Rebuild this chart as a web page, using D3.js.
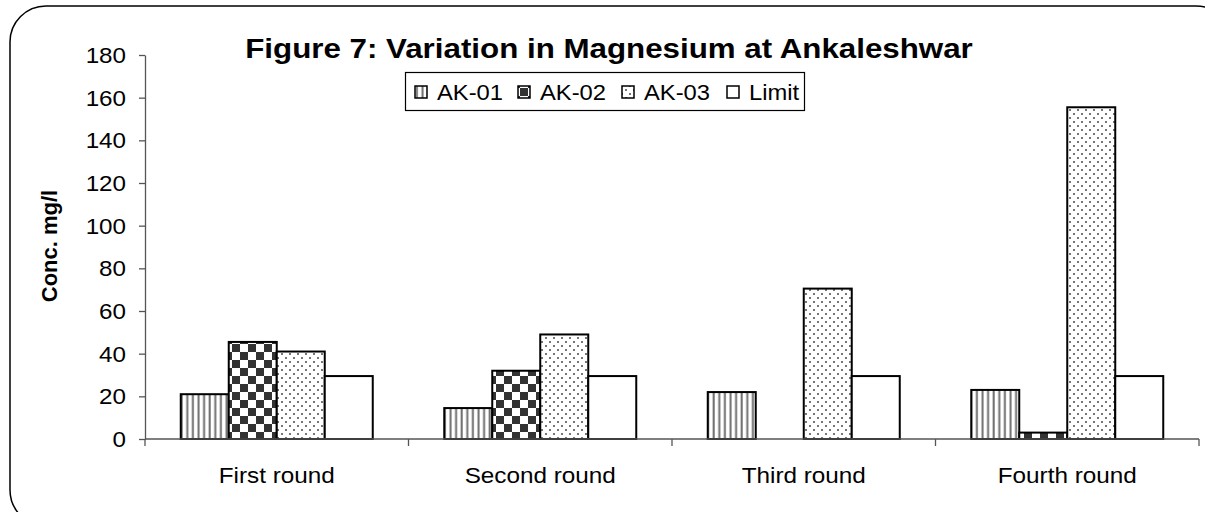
<!DOCTYPE html>
<html>
<head>
<meta charset="utf-8">
<script src="https://cdn.jsdelivr.net/npm/d3@7"></script>
<style>
  html, body { margin: 0; padding: 0; background: #fff; }
  svg { display: block; font-family: "Liberation Sans", Arial, sans-serif; }
</style>
</head>
<body>
<svg id="chart" width="1205" height="512"></svg>
<script>
// Magnesium concentration (mg/l) per sampling round and station
const rounds = ["First round", "Second round", "Third round", "Fourth round"];
const series = ["AK-01", "AK-02", "AK-03", "Limit"];
const ak01 = [21, 14.5, 22, 23];
const ak02 = [45.5, 32, 0, 3];
const ak03 = [41, 49, 70.5, 155.5];
const limit = [29.5, 29.5, 29.5, 29.5];
const yTicks = [0, 20, 40, 60, 80, 100, 120, 140, 160, 180];

const values = { "AK-01": ak01, "AK-02": ak02, "AK-03": ak03, "Limit": limit };

const svg = d3.select("#chart");
const plot = { left: 145, right: 1199, top: 55, bottom: 439 };
const STRETCH = 1.08; // slightly wide lettering

// Text helper: places a horizontally widened label at (x, y)
function label(parent, x, y, str, opts = {}) {
  const g = parent.append("g")
    .attr("transform", `translate(${x},${y}) scale(${opts.sx || STRETCH},1)`);
  return g.append("text")
    .attr("text-anchor", opts.anchor || "start")
    .attr("font-size", opts.size || 22)
    .attr("font-weight", opts.weight || "normal")
    .attr("fill", "#000")
    .text(str);
}

// Patterns used for the bar fills
const defs = svg.append("defs");
const pStripe = defs.append("pattern").attr("id", "pat-stripe")
  .attr("patternUnits", "userSpaceOnUse").attr("width", 5.6).attr("height", 10);
pStripe.append("rect").attr("width", 5.6).attr("height", 10).attr("fill", "#fff");
pStripe.append("rect").attr("x", 1.5).attr("width", 2).attr("height", 10).attr("fill", "#6f6f6f");

const pCheck = defs.append("pattern").attr("id", "pat-check")
  .attr("patternUnits", "userSpaceOnUse").attr("width", 16).attr("height", 16);
pCheck.append("rect").attr("width", 16).attr("height", 16).attr("fill", "#fff");
pCheck.append("rect").attr("width", 8).attr("height", 8).attr("fill", "#333");
pCheck.append("rect").attr("x", 8).attr("y", 8).attr("width", 8).attr("height", 8).attr("fill", "#333");

const pDots = defs.append("pattern").attr("id", "pat-dots")
  .attr("patternUnits", "userSpaceOnUse").attr("width", 8).attr("height", 8);
pDots.append("rect").attr("width", 8).attr("height", 8).attr("fill", "#fff");
pDots.append("rect").attr("x", 1).attr("y", 1).attr("width", 2).attr("height", 2).attr("fill", "#777");
pDots.append("rect").attr("x", 5).attr("y", 5).attr("width", 2).attr("height", 2).attr("fill", "#777");

const fills = { "AK-01": "url(#pat-stripe)", "AK-02": "url(#pat-check)", "AK-03": "url(#pat-dots)", "Limit": "#fff" };

// Rounded outer frame
svg.append("rect")
  .attr("x", 10).attr("y", 6).attr("width", 1222).attr("height", 520)
  .attr("rx", 36).attr("ry", 36)
  .attr("fill", "none").attr("stroke", "#000").attr("stroke-width", 1.5);

// Scales
const y = d3.scaleLinear().domain([0, 180]).range([plot.bottom, plot.top]);
const x0 = d3.scaleBand().domain(rounds).range([plot.left, plot.right]).padding(0);
const bandW = x0.bandwidth();
const groupW = 192;
const x1 = d3.scaleBand().domain(series)
  .range([(bandW - groupW) / 2, (bandW + groupW) / 2]).padding(0);

// Bars
const g = svg.append("g");
rounds.forEach((r, i) => {
  series.forEach(s => {
    const v = values[s][i];
    if (v <= 0) return;
    g.append("rect")
      .attr("x", x0(r) + x1(s))
      .attr("y", y(v))
      .attr("width", x1.bandwidth())
      .attr("height", y(0) - y(v))
      .attr("fill", fills[s])
      .attr("stroke", "#000")
      .attr("stroke-width", 2);
  });
});

// Y axis (tick labels drawn separately with widened lettering)
const yAxis = d3.axisLeft(y).tickValues(yTicks).tickSize(6).tickSizeOuter(0).tickFormat("");
const ya = svg.append("g").attr("transform", `translate(${plot.left},0)`).call(yAxis);
ya.select(".domain").attr("stroke", "#555").attr("stroke-width", 1.3);
ya.selectAll(".tick line").attr("stroke", "#555").attr("stroke-width", 1.3);
yTicks.forEach(t => {
  label(svg, plot.left - 19, y(t) + 8, String(t), { anchor: "end", size: 22, sx: 1.1 });
});

// X axis: baseline with ticks at category boundaries
svg.append("line")
  .attr("x1", plot.left).attr("x2", plot.right)
  .attr("y1", y(0)).attr("y2", y(0))
  .attr("stroke", "#555").attr("stroke-width", 1.3);
const bounds = rounds.map(r => x0(r)).concat([plot.right]);
svg.selectAll(".xtick").data(bounds).join("line")
  .attr("x1", d => d).attr("x2", d => d)
  .attr("y1", y(0)).attr("y2", y(0) + 7)
  .attr("stroke", "#555").attr("stroke-width", 1.3);
rounds.forEach(r => {
  label(svg, x0(r) + bandW / 2, 483, r, { anchor: "middle", size: 22.5 });
});

// Title
label(svg, 609, 58, "Figure 7: Variation in Magnesium at Ankaleshwar",
  { anchor: "middle", size: 27, weight: "bold", sx: 1.16 });

// Y axis title
svg.append("text")
  .attr("transform", "translate(57,246) rotate(-90)")
  .attr("text-anchor", "middle")
  .attr("font-size", 22).attr("font-weight", "bold")
  .text("Conc. mg/l");

// Legend
const legend = svg.append("g");
legend.append("rect")
  .attr("x", 405.5).attr("y", 72.5).attr("width", 399).attr("height", 38)
  .attr("fill", "#fff").attr("stroke", "#000").attr("stroke-width", 1.2);
const legendX = [415, 518, 622, 727];
series.forEach((s, i) => {
  legend.append("rect")
    .attr("x", legendX[i]).attr("y", 86).attr("width", 12).attr("height", 12)
    .attr("fill", fills[s]).attr("stroke", "#000").attr("stroke-width", 1.5);
  label(legend, legendX[i] + 22, 100, s, { size: 22 });
});
</script>
</body>
</html>
